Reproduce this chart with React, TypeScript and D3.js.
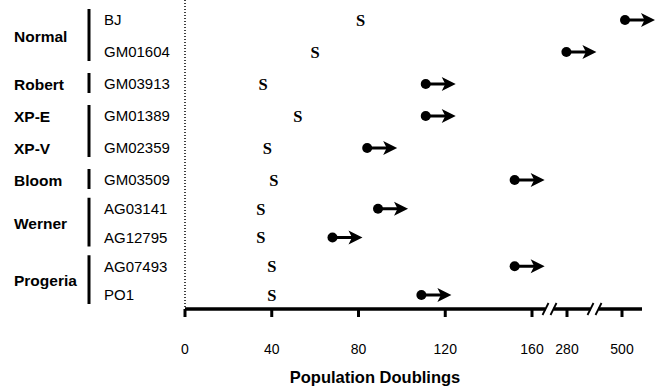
import { useEffect, useRef } from "react";
import * as d3 from "d3";

// cell lines, top to bottom
const cellLines = ["BJ", "GM01604", "GM03913", "GM01389", "GM02359", "GM03509", "AG03141", "AG12795", "AG07493", "PO1"];
// text label shown at left of each row (consecutive repeats share one label)
const syndromeLabels = ["Normal", "Normal", "Robert", "XP-E", "XP-V", "Bloom", "Werner", "Werner", "Progeria", "Progeria"];
// bracket grouping (XP-E / XP-V share a bracket)
const bracketGroups = ["Normal", "Normal", "Robert", "XP", "XP", "Bloom", "Werner", "Werner", "Progeria", "Progeria"];
// population doublings at senescence (S)
const senescencePD = [81, 60, 36, 52, 38, 41, 35, 35, 40, 40];
// population doublings reached by immortalised (hTERT) cells, still growing
const immortalPD = [512, 278, 111, 111, 84, 152, 89, 68, 152, 109];
// axis ticks
const tickValues = [0, 40, 80, 120, 160, 280, 500];

const W = 664;
const H = 387;

export default function App() {
  const svgRef = useRef<SVGSVGElement>(null);

  useEffect(() => {
    const svg = d3.select(svgRef.current);
    svg.selectAll("*").remove();

    const axisY = 309;
    // broken axis: 0-160 linear, then compressed 280 and 500 segments
    const x = d3.scaleLinear().domain([0, 160, 280, 500]).range([185, 532, 567, 622]);
    const y = d3.scaleLinear().domain([0, 5, 9]).range([20, 180, 295]);

    const sans = "'Liberation Sans', Arial, sans-serif";

    // dotted zero line
    svg.append("line")
      .attr("x1", x(0)).attr("x2", x(0))
      .attr("y1", 0).attr("y2", axisY)
      .attr("stroke", "#000").attr("stroke-width", 1.5)
      .attr("stroke-dasharray", "1,2");

    // axis line with two breaks
    const b1 = (x(160) + x(280)) / 2;
    const b2 = (x(280) + x(500)) / 2;
    const gap = 4;
    const segs: [number, number][] = [
      [x(0), b1 - gap],
      [b1 + gap, b2 - gap],
      [b2 + gap, 642],
    ];
    svg.append("g").selectAll("line").data(segs).enter().append("line")
      .attr("x1", (d) => d[0]).attr("x2", (d) => d[1])
      .attr("y1", axisY).attr("y2", axisY)
      .attr("stroke", "#000").attr("stroke-width", 3.5);

    const slashes: number[] = [b1 - gap, b1 + gap, b2 - gap, b2 + gap];
    svg.append("g").selectAll("line").data(slashes).enter().append("line")
      .attr("x1", (d) => d - 3).attr("x2", (d) => d + 3)
      .attr("y1", axisY + 6).attr("y2", axisY - 6)
      .attr("stroke", "#000").attr("stroke-width", 1.8);

    // ticks
    svg.append("g").selectAll("line").data(tickValues).enter().append("line")
      .attr("x1", (d) => x(d)).attr("x2", (d) => x(d))
      .attr("y1", axisY).attr("y2", axisY + 8)
      .attr("stroke", "#000").attr("stroke-width", 3);

    svg.append("g").selectAll("text").data(tickValues).enter().append("text")
      .attr("x", (d) => x(d)).attr("y", 354)
      .attr("text-anchor", "middle")
      .attr("font-family", sans).attr("font-size", 14)
      .text((d) => d);

    svg.append("text")
      .attr("x", 375).attr("y", 383)
      .attr("text-anchor", "middle")
      .attr("font-family", sans).attr("font-size", 16.5).attr("font-weight", "bold")
      .text("Population Doublings");

    // cell line labels
    svg.append("g").selectAll("text").data(cellLines).enter().append("text")
      .attr("x", 104).attr("y", (_, i) => y(i))
      .attr("dy", "0.36em")
      .attr("font-family", sans).attr("font-size", 15)
      .text((d) => d);

    // brackets
    const brackets = d3.groups(cellLines.map((c, i) => ({ c, i, g: bracketGroups[i] })), (d) => d.g);
    svg.append("g").selectAll("line").data(brackets).enter().append("line")
      .attr("x1", 89).attr("x2", 89)
      .attr("y1", (d) => y(d[1][0].i) - 11)
      .attr("y2", (d) => y(d[1][d[1].length - 1].i) + 9)
      .attr("stroke", "#000").attr("stroke-width", 3);

    // syndrome labels
    const labels = d3.groups(cellLines.map((c, i) => ({ c, i, s: syndromeLabels[i] })), (d) => d.s);
    svg.append("g").selectAll("text").data(labels).enter().append("text")
      .attr("x", 14)
      .attr("y", (d) => d3.mean(d[1], (r) => y(r.i)) as number)
      .attr("dy", "0.36em")
      .attr("font-family", sans).attr("font-size", 15.5).attr("font-weight", "bold")
      .text((d) => d[0]);

    // senescence markers
    svg.append("g").selectAll("text").data(senescencePD).enter().append("text")
      .attr("x", (d) => x(d)).attr("y", (_, i) => y(i))
      .attr("dy", "0.36em")
      .attr("text-anchor", "middle")
      .attr("font-family", "'Liberation Serif', 'Times New Roman', serif")
      .attr("font-size", 16.5).attr("font-weight", "bold")
      .text("S");

    // immortal markers: dot + arrow
    const arrows = svg.append("g").selectAll("g").data(immortalPD).enter().append("g")
      .attr("transform", (d, i) => `translate(${x(d)},${y(i)})`);
    arrows.append("circle").attr("r", 5).attr("fill", "#000");
    arrows.append("line")
      .attr("x1", 0).attr("x2", 21).attr("y1", 0).attr("y2", 0)
      .attr("stroke", "#000").attr("stroke-width", 3);
    arrows.append("path")
      .attr("d", "M30,0 L16,-7 L19.5,0 L16,7 Z")
      .attr("fill", "#000");
  }, []);

  return (
    <svg
      ref={svgRef}
      width={W}
      height={H}
      style={{ position: "absolute", left: 0, top: 0, background: "#fff" }}
    />
  );
}
